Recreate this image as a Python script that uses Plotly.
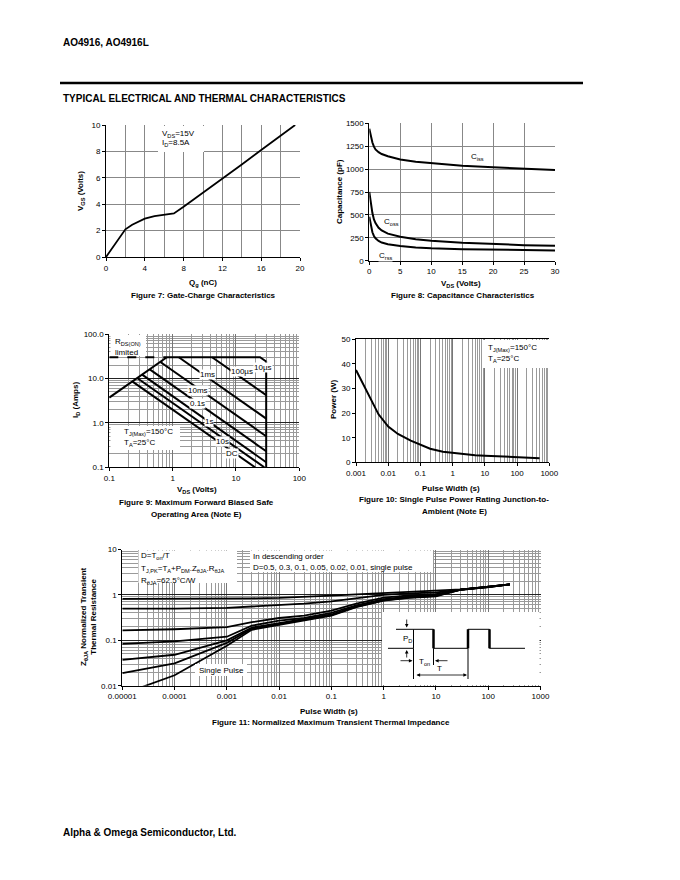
import plotly.graph_objects as go

# the page body has an 8px margin, so the figure is drawn 8px in from the window corner
OFF = 8
W, H = 680 - OFF, 880 - OFF
FONT = "Liberation Sans"

# ---------------- data ----------------
# Figure 7: gate charge
gate_qg = [0, 1, 2, 2.7, 4, 5, 6, 7, 8, 10, 12, 14, 16, 18, 19.5]
gate_vgs = [0, 1.05, 2.1, 2.45, 2.9, 3.1, 3.2, 3.3, 3.8, 4.85, 5.95, 7.0, 8.1, 9.15, 10.0]
f7_xticks = [0, 4, 8, 12, 16, 20]
f7_yticks = [0, 2, 4, 6, 8, 10]

# Figure 8: capacitance
cap_vds = [0, 0.25, 0.5, 0.75, 1, 1.5, 2, 3, 5, 7.5, 10, 15, 20, 25, 30]
cap_ciss = [1440, 1360, 1290, 1245, 1215, 1185, 1165, 1140, 1105, 1080, 1063, 1037, 1019, 1005, 990]
cap_coss = [750, 620, 520, 450, 410, 360, 330, 295, 262, 235, 218, 195, 180, 170, 163]
cap_crss = [480, 380, 310, 270, 245, 215, 198, 180, 160, 145, 135, 126, 120, 115, 112]
f8_xticks = [0, 5, 10, 15, 20, 25, 30]
f8_yticks = [0, 250, 500, 750, 1000, 1250, 1500]

# Figure 9: safe operating area
soa_rds_v = [0.1, 0.81]
soa_rds_i = [3.7, 30]
soa_lim_v = [0.1, 0.81]
soa_lim_i = [30, 30]
soa_10us_v = [0.81, 24, 30]
soa_10us_i = [30, 30, 24]
soa_vmax_v = [30, 30]
soa_vmax_i = [24, 0.1]
soa_100us_v = [4.2, 30]
soa_100us_i = [30, 4.2]
soa_1ms_v = [1.25, 30]
soa_1ms_i = [30, 1.25]
soa_10ms_v = [0.64, 30]
soa_10ms_i = [23.5, 0.5]
soa_100ms_v = [0.435, 30]
soa_100ms_i = [16, 0.23]
soa_1s_v = [0.33, 30]
soa_1s_i = [12.2, 0.13]
soa_10s_v = [0.275, 28]
soa_10s_i = [10.2, 0.1]
soa_dc_v = [0.23, 20]
soa_dc_i = [8.6, 0.1]
f9_tickvals = [0.1, 1, 10, 100]
f9_xticktext = ["0.1", "1", "10", "100"]
f9_yticktext = ["0.1", "1.0", "10.0", "100.0"]

# Figure 10: single pulse power
spp_t = [0.001, 0.002, 0.003, 0.005, 0.01, 0.02, 0.05, 0.1, 0.2, 0.5, 1, 2, 5, 10, 20, 50, 100, 200, 500]
spp_p = [37.5, 30, 25, 19.5, 14.5, 11.5, 8.8, 7.0, 5.5, 4.3, 3.8, 3.3, 2.9, 2.7, 2.5, 2.2, 1.9, 1.75, 1.65]
f10_xtickvals = [0.001, 0.01, 0.1, 1, 10, 100, 1000]
f10_xticktext = ["0.001", "0.01", "0.1", "1", "10", "100", "1000"]
f10_yticks = [0, 10, 20, 30, 40, 50]

# Figure 11: transient thermal impedance
zth_t = [1e-5, 1e-4, 1e-3, 3e-3, 1e-2, 3e-2, 0.1, 0.3, 1, 3, 10, 30, 100, 260]
zth_d05 = [0.82, 0.82, 0.83, 0.84, 0.86, 0.9, 0.96, 1.03, 1.1, 1.17, 1.25, 1.32, 1.48, 1.7]
zth_d03 = [0.5, 0.5, 0.52, 0.55, 0.59, 0.64, 0.72, 0.85, 1.0, 1.08, 1.13, 1.3, 1.48, 1.7]
zth_d01 = [0.165, 0.175, 0.196, 0.25, 0.31, 0.35, 0.45, 0.64, 0.87, 0.97, 1.04, 1.3, 1.48, 1.7]
zth_d005 = [0.083, 0.095, 0.12, 0.21, 0.27, 0.31, 0.40, 0.59, 0.81, 0.92, 1.0, 1.3, 1.48, 1.7]
zth_d002 = [0.037, 0.048, 0.1, 0.19, 0.24, 0.29, 0.37, 0.56, 0.78, 0.89, 0.97, 1.3, 1.48, 1.7]
zth_d001 = [0.019, 0.031, 0.088, 0.18, 0.23, 0.28, 0.36, 0.55, 0.76, 0.87, 0.95, 1.3, 1.48, 1.7]
zth_single = [0.0065, 0.017, 0.076, 0.17, 0.22, 0.27, 0.35, 0.54, 0.75, 0.86, 0.93, 1.3, 1.48, 1.7]
f11_xtickvals = [1e-5, 1e-4, 1e-3, 1e-2, 0.1, 1, 10, 100, 1000]
f11_xticktext = ["0.00001", "0.0001", "0.001", "0.01", "0.1", "1", "10", "100", "1000"]
f11_ytickvals = [0.01, 0.1, 1, 10]
f11_yticktext = ["0.01", "0.1", "1", "10"]


# ---------------- helpers ----------------
def px(x):
    return (x - OFF) / W


def py(y):
    return 1 - (y - OFF) / H


BOX = {  # plot areas in window pixels: left, top, right, bottom
    1: (106, 125, 300, 257),
    2: (369.3, 123.3, 555, 260.7),
    3: (109.3, 334, 299.3, 467.3),
    4: (356, 339.3, 549.3, 462.3),
    5: (122.3, 549.5, 540.5, 685.7),
}

fig = go.Figure()


def add(x, y, k, width=2.0, dash=None):
    sfx = "" if k == 1 else str(k)
    fig.add_trace(go.Scatter(x=x, y=y, mode="lines", xaxis="x" + sfx, yaxis="y" + sfx,
                             line=dict(color="black", width=width, dash=dash),
                             hoverinfo="skip", showlegend=False))


add(gate_qg, gate_vgs, 1, 1.8)
add(cap_vds, cap_ciss, 2, 2)
add(cap_vds, cap_coss, 2, 2)
add(cap_vds, cap_crss, 2, 2)
for xv, yv in [(soa_rds_v, soa_rds_i), (soa_10us_v, soa_10us_i), (soa_vmax_v, soa_vmax_i),
               (soa_100us_v, soa_100us_i), (soa_1ms_v, soa_1ms_i), (soa_10ms_v, soa_10ms_i),
               (soa_100ms_v, soa_100ms_i), (soa_1s_v, soa_1s_i), (soa_10s_v, soa_10s_i),
               (soa_dc_v, soa_dc_i)]:
    add(xv, yv, 3, 2)
add(soa_lim_v, soa_lim_i, 3, 2, "dash")
add(spp_t, spp_p, 4, 2)
for zz in [zth_d05, zth_d03, zth_d01, zth_d005, zth_d002, zth_d001, zth_single]:
    add(zth_t, zz, 5, 1.8)

GRID = "#888888"
TICKFONT = dict(family=FONT, size=8, color="black")


def axis(k, xdir, **kw):
    l, t, r, b = BOX[k]
    d = dict(showline=True, linecolor="black", linewidth=1, ticks="outside", ticklen=3,
             tickcolor="black", tickwidth=1, tickfont=TICKFONT, zeroline=False, showgrid=True,
             gridcolor=GRID, gridwidth=1, fixedrange=True, tickmode="array", automargin=False)
    if xdir:
        d["domain"] = [px(l), px(r)]
        d["anchor"] = "y" + ("" if k == 1 else str(k))
    else:
        d["domain"] = [py(b), py(t)]
        d["anchor"] = "x" + ("" if k == 1 else str(k))
    d.update(kw)
    return d


lay = {}
lay["xaxis"] = axis(1, True, range=[0, 20], tickvals=f7_xticks,
                    minor=dict(dtick=2, tick0=0, showgrid=True, gridcolor=GRID, ticks=""))
lay["yaxis"] = axis(1, False, range=[0, 10], tickvals=f7_yticks)
lay["xaxis2"] = axis(2, True, range=[0, 30], tickvals=f8_xticks)
lay["yaxis2"] = axis(2, False, range=[0, 1500], tickvals=f8_yticks)
MINOR = dict(dtick="D1", showgrid=True, gridcolor="#9a9a9a", gridwidth=1, ticks="")
lay["xaxis3"] = axis(3, True, type="log", range=[-1, 2], tickvals=f9_tickvals,
                     ticktext=f9_xticktext, minor=MINOR, gridcolor="#777")
lay["yaxis3"] = axis(3, False, type="log", range=[-1, 2], tickvals=f9_tickvals,
                     ticktext=f9_yticktext, minor=MINOR, gridcolor="#222", gridwidth=1.3)
lay["xaxis4"] = axis(4, True, type="log", range=[-3, 3], tickvals=f10_xtickvals,
                     ticktext=f10_xticktext, minor=MINOR, gridcolor="#777", mirror=True)
lay["yaxis4"] = axis(4, False, range=[0, 50], tickvals=f10_yticks, showgrid=False)
lay["xaxis5"] = axis(5, True, type="log", range=[-5, 3], tickvals=f11_xtickvals,
                     ticktext=f11_xticktext, minor=MINOR, gridcolor="#777", gridwidth=1.3)
lay["yaxis5"] = axis(5, False, type="log", range=[-2, 1], tickvals=f11_ytickvals,
                     ticktext=f11_yticktext, minor=MINOR, gridcolor="#222", gridwidth=1.3)

ann = []
shapes = []


def text(x, y, s, size=8, bold=False, xanchor="center", yanchor="middle", angle=0, bg=None):
    a = dict(x=px(x), y=py(y), xref="paper", yref="paper", text=("<b>%s</b>" % s) if bold else s,
             showarrow=False, xanchor=xanchor, yanchor=yanchor, textangle=angle,
             font=dict(family=FONT, size=size, color="black"), borderpad=0)
    if bg:
        a["bgcolor"] = bg
    ann.append(a)


def wbox(x0, y0, x1, y1):
    shapes.append(dict(type="rect", xref="paper", yref="paper", x0=px(x0), x1=px(x1),
                       y0=py(y1), y1=py(y0), fillcolor="white", line=dict(width=0), layer="above"))


def seg(x0, y0, x1, y1, w=1):
    shapes.append(dict(type="line", xref="paper", yref="paper", x0=px(x0), x1=px(x1),
                       y0=py(y0), y1=py(y1), line=dict(color="black", width=w), layer="above"))


def arrow(xt, yt, xs, ys, both=False):
    a = dict(x=px(xt), y=py(yt), xref="paper", yref="paper", text="", showarrow=True,
             ax=xs - xt, ay=ys - yt, arrowhead=2, arrowsize=0.9, arrowwidth=0.8,
             arrowcolor="black", standoff=0, startstandoff=0)
    if both:
        a["arrowside"] = "end+start"
        a["startarrowhead"] = 2
        a["startarrowsize"] = 0.9
    ann.append(a)


# page header / footer
text(62, 42, "AO4916, AO4916L", 10, True, xanchor="left")
seg(60, 83, 583, 83, 2.5)
text(62, 99, "TYPICAL ELECTRICAL AND THERMAL CHARACTERISTICS", 10, True, xanchor="left")
text(62, 832, "Alpha &amp; Omega Semiconductor, Ltd.", 10, True, xanchor="left")

# Figure 7
text(81, 191, "V<sub>GS</sub> (Volts)", 8, True, angle=-90)
text(203, 283, "Q<sub>g</sub> (nC)", 8, True)
text(203, 295, "Figure 7: Gate-Charge Characteristics", 8, True)
wbox(158, 126, 204, 152)
text(161, 134, "V<sub>DS</sub>=15V", 8, xanchor="left")
text(161, 143.5, "I<sub>D</sub>=8.5A", 8, xanchor="left")

# Figure 8
text(339, 192, "Capacitance (pF)", 8, True, angle=-90)
text(461, 284, "V<sub>DS</sub> (Volts)", 8, True)
text(463, 295, "Figure 8: Capacitance Characteristics", 8, True)
text(477, 157, "C<sub>iss</sub>", 8, bg="white")
text(391, 222, "C<sub>oss</sub>", 8, bg="white")
text(385, 256, "C<sub>rss</sub>", 8, bg="white")

# Figure 9
text(76, 400, "I<sub>D</sub> (Amps)", 8, True, angle=-90)
text(197, 490, "V<sub>DS</sub> (Volts)", 8, True)
text(196, 503, "Figure 9: Maximum Forward Biased Safe", 8, True)
text(196, 514.5, "Operating Area (Note E)", 8, True)
wbox(110.5, 335, 146, 356)
text(114, 341.5, "R<sub>DS(ON)</sub>", 8, xanchor="left")
text(114, 352, "limited", 8, xanchor="left")
wbox(110.5, 426, 180, 450)
text(123, 432, "T<sub>J(Max)</sub>=150°C", 8, xanchor="left")
text(123, 443, "T<sub>A</sub>=25°C", 8, xanchor="left")
for lx, ly, s in [(207, 374.5, "1ms"), (242, 371.5, "100µs"), (263, 367, "10µs"),
                  (198, 390, "10ms"), (197, 403, "0.1s"), (209, 421.5, "1s"),
                  (223, 441.5, "10s"), (232, 453.5, "DC")]:
    text(lx, ly, s, 8, bg="white")

# Figure 10
text(333, 400, "Power (W)", 8, True, angle=-90)
text(451, 488, "Pulse Width (s)", 8, True)
text(454, 499.5, "Figure 10: Single Pulse Power Rating Junction-to-", 8, True)
text(454, 511, "Ambient (Note E)", 8, True)
wbox(482, 340, 548.5, 368)
text(487, 348, "T<sub>J(Max)</sub>=150°C", 8, xanchor="left")
text(487, 359, "T<sub>A</sub>=25°C", 8, xanchor="left")

# Figure 11
text(88, 617, "Z<sub>θJA</sub> Normalized Transient<br>Thermal Resistance", 8, True, angle=-90)
text(329, 711, "Pulse Width (s)", 8, True)
text(331, 722, "Figure 11: Normalized Maximum Transient Thermal Impedance", 8, True)
wbox(138.5, 550.5, 237, 583)
text(140, 555.5, "D=T<sub>on</sub>/T", 8, xanchor="left")
text(140, 569, "T<sub>J,PK</sub>=T<sub>A</sub>+P<sub>DM</sub>.Z<sub>θJA</sub>.R<sub>θJA</sub>", 8, xanchor="left")
text(140, 580.5, "R<sub>θJA</sub>=62.5°C/W", 8, xanchor="left")
wbox(250, 550.5, 433, 572)
text(252, 556, "In descending order", 8, xanchor="left")
text(252, 567, "D=0.5, 0.3, 0.1, 0.05, 0.02, 0.01, single pulse", 8, xanchor="left")
wbox(195, 664, 247, 676)
text(221, 670, "Single Pulse", 8)

# Figure 11 inset: duty-cycle waveform sketch
wbox(382, 612, 539.5, 685)
shapes.append(dict(type="path", xref="paper", yref="paper", layer="above",
                   line=dict(color="black", width=1),
                   path="M %f,%f L %f,%f L %f,%f L %f,%f L %f,%f L %f,%f L %f,%f L %f,%f L %f,%f L %f,%f" % (
                       px(388), py(648.3), px(413.5), py(648.3), px(413.5), py(629.3),
                       px(433.5), py(629.3), px(433.5), py(648.3), px(468), py(648.3),
                       px(468), py(629.3), px(489.5), py(629.3), px(489.5), py(648.3),
                       px(525), py(648.3))))
seg(433.5, 629.3, 433.5, 648.3, 2.5)
seg(468, 629.3, 468, 648.3, 2.5)
seg(489.5, 629.3, 489.5, 648.3, 2.5)
seg(396, 629.3, 413.5, 629.3, 1)
seg(413.5, 648.3, 413.5, 679, 1)
seg(468, 648.3, 468, 679, 1)
seg(433.5, 648.3, 433.5, 665, 1)
arrow(406.7, 627.5, 406.7, 618)
arrow(406.7, 650, 406.7, 659)
arrow(412.5, 660.7, 399, 660.7)
arrow(435, 660.7, 449, 660.7)
arrow(467, 675, 415, 675, both=True)
text(407, 639, "P<sub>D</sub>", 8)
text(424, 661.5, "T<sub>on</sub>", 8)
text(439, 668, "T", 8)

fig.update_layout(template="none", width=W, height=H, margin=dict(l=0, r=0, t=0, b=0, pad=0),
                  paper_bgcolor="white", plot_bgcolor="white", showlegend=False,
                  annotations=ann, shapes=shapes, font=dict(family=FONT, size=8, color="black"),
                  **lay)

fig.write_html("out.html")
